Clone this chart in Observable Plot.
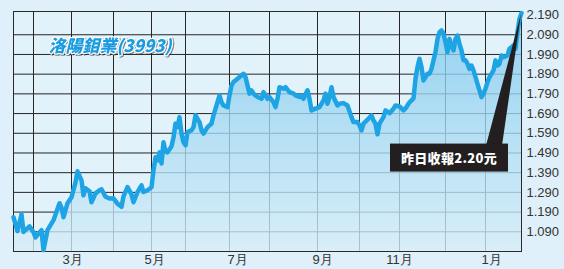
<!DOCTYPE html>
<html><head><meta charset="utf-8">
<script src="https://cdn.jsdelivr.net/npm/d3@7"></script>
<script src="https://cdn.jsdelivr.net/npm/@observablehq/plot@0.6"></script>
<style>
html,body{margin:0;padding:0;background:#dff0fa;}
#chart{width:564px;height:269px;overflow:hidden;}
#chart svg g[aria-label="text"] text{filter:drop-shadow(1px 1px 0.6px rgba(40,40,40,0.55));}
</style></head><body><div id="chart"></div>
<script>
// trading-session index (x) and closing price (y)
const sessions = [0,2,4,5,8,10,11,14,15,17,20,23,24,25,27,29,31,32,34,35,36,38,39,41,43,44,46,48,50,52,54,55,57,59,60,62,64,65,67,69,70,71,72,73,74,75,76,77,79,80,81,82,83,84,85,86,87,89,90,91,93,94,95,97,99,100,102,103,104,105,107,108,109,110,112,113,115,116,117,118,119,120,122,124,125,127,128,130,131,132,133,135,136,138,140,141,143,144,145,147,148,149,151,153,155,156,157,158,159,160,162,163,165,167,169,170,172,173,174,175,177,179,180,181,182,183,185,186,188,190,191,193,195,196,198,200,201,202,203,204,205,206,207,208,209,210,211,212,213,214,215,216,217,218,219,220,221,222,223,224,225,226,227,228,229,230,231,232,233,234,235,236,237,238,240,241,242,243,244,245,247,248,249,250,251,252,253,254];
const prices = [1.164,1.093,1.179,1.089,1.118,1.088,1.062,1.098,0.997,1.098,1.149,1.235,1.212,1.164,1.235,1.265,1.341,1.397,1.351,1.275,1.311,1.296,1.240,1.285,1.301,1.306,1.268,1.259,1.260,1.233,1.217,1.270,1.317,1.280,1.240,1.291,1.326,1.292,1.301,1.316,1.402,1.468,1.453,1.493,1.437,1.544,1.498,1.493,1.524,1.569,1.639,1.621,1.672,1.588,1.545,1.529,1.596,1.605,1.621,1.681,1.647,1.605,1.588,1.621,1.639,1.681,1.748,1.782,1.748,1.731,1.723,1.782,1.833,1.850,1.867,1.875,1.892,1.875,1.833,1.791,1.808,1.791,1.774,1.765,1.799,1.765,1.774,1.748,1.723,1.765,1.824,1.816,1.824,1.799,1.791,1.782,1.774,1.782,1.765,1.808,1.765,1.706,1.715,1.723,1.757,1.791,1.740,1.774,1.824,1.774,1.731,1.740,1.743,1.731,1.672,1.647,1.647,1.630,1.605,1.639,1.659,1.681,1.655,1.639,1.585,1.639,1.672,1.706,1.692,1.715,1.731,1.726,1.706,1.716,1.747,1.767,1.867,1.926,1.968,1.926,1.858,1.875,1.892,1.892,1.917,1.960,2.002,2.069,2.103,2.112,2.095,2.052,2.002,2.069,2.036,2.010,2.069,2.086,2.044,2.010,1.960,1.960,1.943,1.917,1.934,1.909,1.875,1.841,1.808,1.774,1.791,1.816,1.850,1.875,1.909,1.960,1.934,1.943,1.985,1.976,1.985,2.019,2.027,2.036,2.019,2.103,2.171,2.200];
const yTicks = [1.09,1.19,1.29,1.39,1.49,1.59,1.69,1.79,1.89,1.99,2.09,2.19];
const yGrid = [1.09,1.19,1.29,1.39,1.49,1.59,1.69,1.79,1.89,1.99,2.09];
const monthGrid = [10,29,50,69,86,108,128,152,173,193,216,236];
const monthLabelPos = [29.5,70.5,112,154.5,193,239];
const monthLabels = ["3月","5月","7月","9月","11月","1月"];
const titleText = "洛陽鉬業(3993)";
const noteText = "昨日收報2.20元";

const data = sessions.map((s, i) => ({s, v: prices[i]}));
const last = data[data.length - 1];
const NS = "http://www.w3.org/2000/svg";

function defs() {
  const d = document.createElementNS(NS, "defs");
  d.innerHTML = `<linearGradient id="fillGrad" gradientUnits="userSpaceOnUse" x1="0" y1="11" x2="0" y2="251">
    <stop offset="0" stop-color="#7bc8ee"/><stop offset="1" stop-color="#d6edf8"/></linearGradient>`;
  return d;
}

function callout(index, scales) {
  const ax = scales.x(last.s), ay = scales.y(last.v);
  const g = document.createElementNS(NS, "g");
  const by = ay + 131;
  const wedge = document.createElementNS(NS, "path");
  wedge.setAttribute("d", `M${ax - 35},${by + 2} L${ax - 19},${by + 2} L${ax},${ay + 1} Z`);
  wedge.setAttribute("fill", "#231f20");
  g.appendChild(wedge);
  const rect = document.createElementNS(NS, "rect");
  rect.setAttribute("x", ax - 131); rect.setAttribute("y", by);
  rect.setAttribute("width", 118); rect.setAttribute("height", 28);
  rect.setAttribute("fill", "#231f20");
  g.appendChild(rect);
  const t = document.createElementNS(NS, "text");
  t.setAttribute("x", ax - 72); t.setAttribute("y", by + 14);
  t.setAttribute("text-anchor", "middle");
  t.setAttribute("dominant-baseline", "central");
  t.setAttribute("fill", "white");
  t.setAttribute("font-size", "13");
  t.setAttribute("font-weight", "900");
  t.setAttribute("letter-spacing", "0.3");
  t.setAttribute("font-family", "'Noto Sans CJK TC', sans-serif");
  t.textContent = noteText;
  g.appendChild(t);
  return g;
}

const chart = Plot.plot({
  width: 564,
  height: 269,
  marginLeft: 13,
  marginRight: 43,
  marginTop: 11,
  marginBottom: 18,
  style: {background: "#dff0fa", fontFamily: "'Liberation Sans', Arial, sans-serif", fontSize: "13px", overflow: "visible"},
  x: {domain: [0, 254]},
  y: {domain: [0.99, 2.208]},
  marks: [
    defs,
    Plot.frame({fill: "#e1f2fb"}),
    Plot.gridX(monthGrid, {stroke: "#262626", strokeOpacity: 1}),
    Plot.gridY(yGrid, {stroke: "#262626", strokeOpacity: 1}),
    Plot.areaY(data, {x: "s", y1: 0.99, y2: "v", fill: "url(#fillGrad)", fillOpacity: 0.78}),
    Plot.frame({stroke: "#2a2a2a"}),
    Plot.line(data, {x: "s", y: "v", stroke: "#1ea4e4", strokeWidth: 4.5, strokeLinejoin: "round"}),
    Plot.text([titleText], {frameAnchor: "top-left", dx: 35, dy: 28, text: d => d, textAnchor: "start",
      fontSize: 17, fontWeight: 900, fontStyle: "italic", fontFamily: "'Noto Sans CJK TC', sans-serif",
      fill: "#1b9be0", stroke: "white", strokeWidth: 2.5, paintOrder: "stroke"}),
    callout,
    Plot.axisY(yTicks, {anchor: "right", tickSize: 0, tickPadding: 5, tickFormat: d3.format(".3f"), fontSize: 13, fill: "#333", label: null}),
    Plot.axisX(monthLabelPos, {tickSize: 0, tickPadding: 3, tickFormat: d => monthLabels[monthLabelPos.indexOf(d)], fontSize: 13, fill: "#333", label: null})
  ]
});
document.getElementById("chart").appendChild(chart);
</script>
</body></html>
